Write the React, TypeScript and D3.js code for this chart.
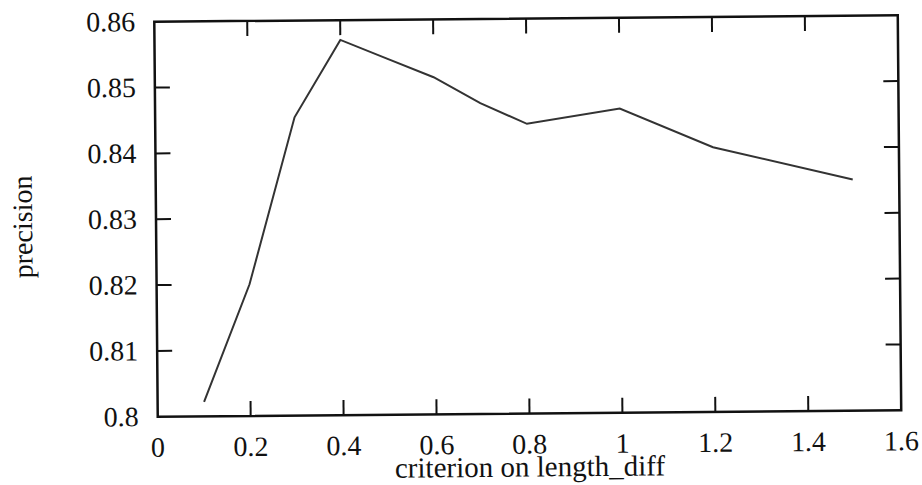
import React from "react";
import * as d3 from "d3";

const xValues = [0.1, 0.2, 0.3, 0.4, 0.5, 0.6, 0.7, 0.8, 1.0, 1.2, 1.5];
const precision = [0.8022, 0.82, 0.8453, 0.857, 0.8541, 0.8512, 0.8472, 0.844, 0.8462, 0.8402, 0.8351];
const xTicks = [0, 0.2, 0.4, 0.6, 0.8, 1, 1.2, 1.4, 1.6];
const yTicks = [0.8, 0.81, 0.82, 0.83, 0.84, 0.85, 0.86];
const xTitle = "criterion on length_diff";
const yTitle = "precision";

export default function App() {
  const W = 922, H = 485;
  const left = 156, right = 899.5, top = 18.5, bottom = 413.5;
  const x = d3.scaleLinear().domain([0, 1.6]).range([left, right]);
  const y = d3.scaleLinear().domain([0.8, 0.86]).range([bottom, top]);
  const line = d3.line<number>().x((_, i) => x(xValues[i])).y((d) => y(d));
  const tl = 15;
  const font = "Liberation Serif, Times New Roman, serif";
  const cx = (left + right) / 2, cy = (top + bottom) / 2;
  return (
    <svg width={W} height={H} style={{ position: "absolute", left: 0, top: 0, background: "#fff" }}>
      <g transform={`rotate(-0.5 ${cx} ${cy})`} style={{ fontFamily: font }} fill="#111">
        <path d={line(precision) || ""} fill="none" stroke="#333" strokeWidth={2} />
        <rect x={left} y={top} width={right - left} height={bottom - top} fill="none" stroke="#111" strokeWidth={2.5} />
        {xTicks.slice(1, -1).map((t) => (
          <g key={"xt" + t}>
            <line x1={x(t)} x2={x(t)} y1={bottom} y2={bottom - tl} stroke="#111" strokeWidth={2} />
            <line x1={x(t)} x2={x(t)} y1={top} y2={top + tl} stroke="#111" strokeWidth={2} />
          </g>
        ))}
        {yTicks.slice(1, -1).map((t) => (
          <g key={"yt" + t}>
            <line x1={left} x2={left + tl} y1={y(t)} y2={y(t)} stroke="#111" strokeWidth={2} />
            <line x1={right} x2={right - tl} y1={y(t)} y2={y(t)} stroke="#111" strokeWidth={2} />
          </g>
        ))}
        {xTicks.map((t) => (
          <text key={"xl" + t} x={x(t)} y={bottom + 40} textAnchor="middle" fontSize={28}>
            {String(t)}
          </text>
        ))}
        {yTicks.map((t) => (
          <text key={"yl" + t} x={left - 19} y={y(t)} dy="0.33em" textAnchor="end" fontSize={28}>
            {String(t)}
          </text>
        ))}
        <text x={x(0.8)} y={bottom + 63} textAnchor="middle" fontSize={29}>{xTitle}</text>
        <text transform={`translate(32 ${y(0.829)}) rotate(-90)`} textAnchor="middle" fontSize={28}>{yTitle}</text>
      </g>
    </svg>
  );
}
